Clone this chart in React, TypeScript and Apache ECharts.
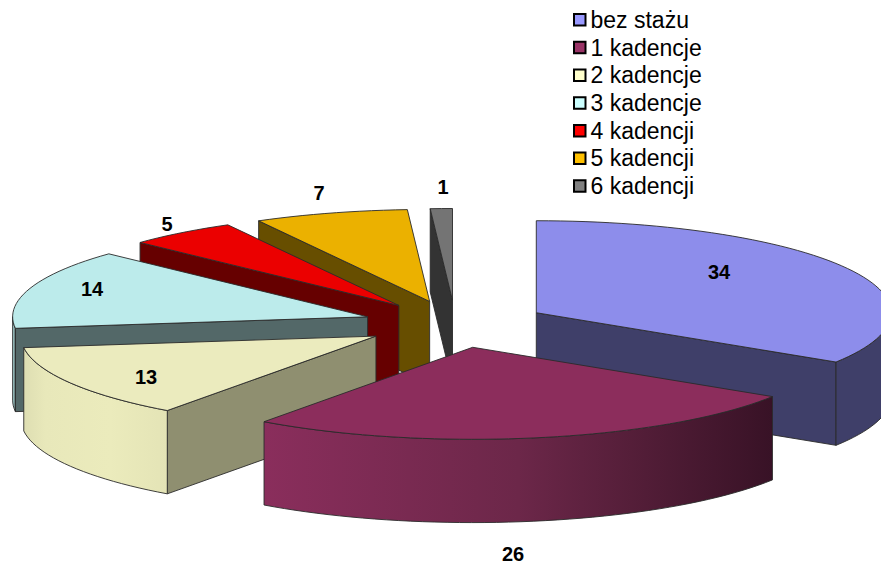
import React, { useEffect, useRef } from "react";
import * as echarts from "echarts";

const CATEGORIES = ["bez stażu", "1 kadencje", "2 kadencje", "3 kadencje", "4 kadencji", "5 kadencji", "6 kadencji"];
const VALUES = [34, 26, 13, 14, 5, 7, 1];
const LEGEND_COLORS = ["#9999FF", "#993366", "#FFFFCC", "#CCFFFF", "#FF0000", "#FFC000", "#808080"];
const TOP_COLORS = ["#8D8DEB", "#8C2D5C", "#EBEBBE", "#BCEBEB", "#EB0000", "#EBB100", "#747474"];
const CUT_COLORS = ["#3F3F69", "#3A1428", "#8F8F70", "#536868", "#660000", "#674E00", "#333333"];
const SIDE_STOPS: [number, string][][] = [
  [[0, "#3F3F69"], [1, "#3F3F69"]],
  [[0, "#8A2E5C"], [0.5, "#6C2749"], [0.75, "#521D37"], [1, "#381226"]],
  [[0, "#DEDEB2"], [0.15, "#E8E8BA"], [0.6, "#EBEBBC"], [1, "#E4E4B6"]],
  [[0, "#BCEBEB"], [1, "#536868"]],
  [[0, "#660000"], [1, "#660000"]],
  [[0, "#674E00"], [1, "#674E00"]],
  [[0, "#333333"], [1, "#333333"]],
];
// Layout only: centres of the value labels, and the painter's order of the slices.
const LABEL_CENTERS = [[719, 272], [513, 554], [146, 377], [92, 289], [167, 224], [319, 193], [443, 187]];
const DRAW_ORDER = [6, 5, 4, 3, 2, 0, 1];

const CX = 455.4, CY = 324.1, RX = 355, RY = 92, DEPTH = 83.3, EXPLODE_X = 92.3, EXPLODE_Y = 23.6;
const FONT = '"Liberation Sans", Arial, sans-serif';
const rad = (d: number) => (d * Math.PI) / 180;
const TOTAL = VALUES.reduce((a, b) => a + b, 0);

function renderSlice(index: number) {
  return (_params: any, api: any) => {
    const before = VALUES.slice(0, index).reduce((a, b) => a + b, 0);
    const a0 = (before / TOTAL) * 360;
    const a1 = ((before + api.value(0)) / TOTAL) * 360;
    const mid = rad((a0 + a1) / 2);
    const ax = CX + EXPLODE_X * Math.sin(mid);
    const ay = CY - EXPLODE_Y * Math.cos(mid);
    const pt = (deg: number, dy = 0) => [ax + RX * Math.sin(rad(deg)), ay - RY * Math.cos(rad(deg)) + dy];
    const arc = (from: number, to: number, dy = 0) => {
      const n = Math.max(2, Math.ceil(Math.abs(to - from) / 2));
      const out: number[][] = [];
      for (let i = 0; i <= n; i++) out.push(pt(from + ((to - from) * i) / n, dy));
      return out;
    };
    const line = { stroke: "#2a2a2a", lineWidth: 0.9, lineJoin: "round" };
    const children: any[] = [];
    const face = (points: number[][], fill: any) =>
      children.push({ type: "polygon", shape: { points }, style: { fill, ...line } });
    // cut faces
    if (Math.sin(rad(a0)) < -1e-6) {
      const e = pt(a0);
      face([[ax, ay], e, [e[0], e[1] + DEPTH], [ax, ay + DEPTH]], CUT_COLORS[index]);
    }
    if (Math.sin(rad(a1)) > 1e-6) {
      const e = pt(a1);
      face([[ax, ay], e, [e[0], e[1] + DEPTH], [ax, ay + DEPTH]], CUT_COLORS[index]);
    }
    // outer rim: only the part that faces the viewer
    const r0 = Math.max(a0, 90), r1 = Math.min(a1, 270);
    if (r1 > r0) {
      const rim = [...arc(r0, r1), ...arc(r1, r0, DEPTH)];
      face(rim, new echarts.graphic.LinearGradient(0, 0, 1, 0,
        SIDE_STOPS[index].map(([offset, color]) => ({ offset, color }))));
    }
    // top
    face([[ax, ay], ...arc(a0, a1)], TOP_COLORS[index]);
    // value label
    const [lx, ly] = LABEL_CENTERS[index];
    children.push({
      type: "text",
      style: {
        text: String(api.value(0)), x: lx, y: ly, align: "center", verticalAlign: "middle",
        fontFamily: FONT, fontWeight: "bold", fontSize: 20, fill: "#000",
      },
    });
    return { type: "group", children };
  };
}

export default function App() {
  const ref = useRef<HTMLDivElement>(null);
  useEffect(() => {
    document.body.style.margin = "0";
    const chart = echarts.init(ref.current!, null, { renderer: "svg" });
    chart.setOption({
      animation: false,
      backgroundColor: "#fff",
      legend: {
        left: 568,
        top: 2,
        orient: "vertical",
        icon: "rect",
        itemWidth: 11.5,
        itemHeight: 11.5,
        itemGap: 2,
        selectedMode: false,
        textStyle: { fontFamily: FONT, fontSize: 23, color: "#000", padding: 0, lineHeight: 25.7 },
        data: CATEGORIES.map((name, i) => ({
          name,
          itemStyle: { color: LEGEND_COLORS[i], borderColor: "#000", borderWidth: 2 },
        })),
      },
      series: DRAW_ORDER.map((i, order) => ({
        type: "custom",
        name: CATEGORIES[i],
        coordinateSystem: "none",
        z: 2 + order,
        silent: true,
        itemStyle: { color: LEGEND_COLORS[i] },
        data: [[VALUES[i]]],
        renderItem: renderSlice(i),
      })),
    });
    return () => chart.dispose();
  }, []);
  return <div ref={ref} style={{ width: 881, height: 564 }} />;
}
